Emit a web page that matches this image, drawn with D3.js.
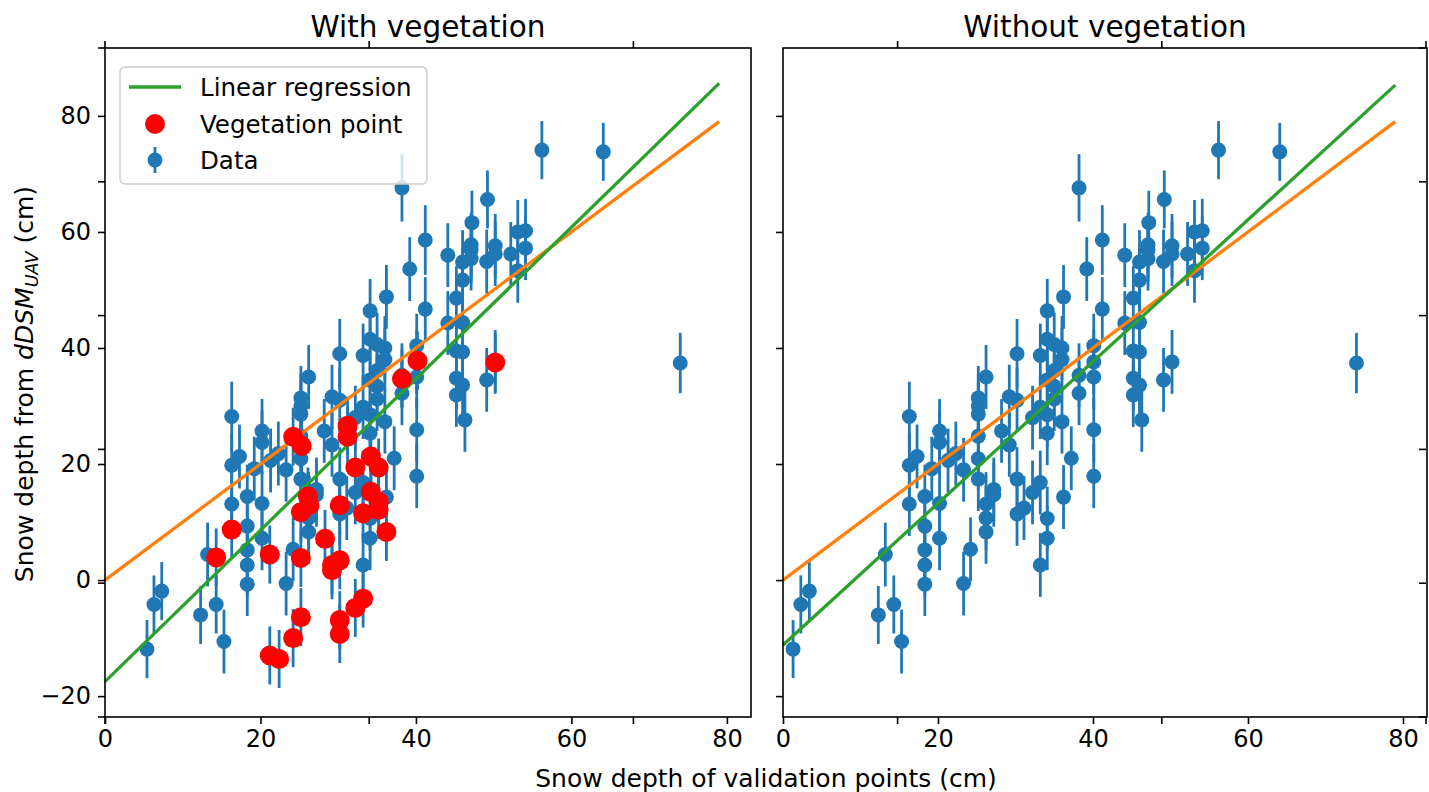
<!DOCTYPE html>
<html>
<head>
<meta charset="utf-8">
<script src="https://d3js.org/d3.v7.min.js"></script>
<style>
  body { margin: 0; background: #fff; }
  svg { display: block; font-family: "DejaVu Sans", sans-serif; }
</style>
</head>
<body>
<svg id="chart" width="1429" height="792"></svg>
<script>
// [snow depth of validation point (cm), snow depth from dDSM (cm), error (cm)]
const dataPoints = [
  [5.4,-11.9,5], [6.3,-4.2,5], [7.3,-1.9,5],
  [12.3,-6.0,5], [13.2,4.4,5.5], [14.3,-4.2,5], [15.3,-10.6,5.5],
  [16.3,28.2,6], [16.3,19.8,5.5], [16.3,13.1,5.5], [17.3,21.3,5.5],
  [18.3,14.4,5.5], [18.3,9.3,5.5], [18.3,5.2,5.5], [18.3,2.6,5.5], [18.3,-0.7,5.5],
  [19.2,19.2,5.5], [20.2,25.7,5.5], [20.2,23.7,5.5], [20.2,13.2,5.5], [20.2,7.2,5.5],
  [21.3,20.6,5.5], [22.3,21.8,5.5], [23.3,19.0,5.5], [23.3,-0.6,5.5], [24.2,5.3,5.5],
  [25.2,31.4,5.5], [25.2,30.0,5.5], [25.2,28.6,5.5], [25.2,24.8,5.5], [25.2,20.9,5.5], [25.2,17.4,5.5],
  [26.2,35.0,5.5], [26.2,13.1,5.5], [26.2,10.7,5.5], [26.2,8.3,5.5],
  [27.2,15.6,5.5], [27.2,14.7,5.5], [28.2,25.7,5.5], [29.2,31.6,5.5], [29.2,23.3,5.5],
  [30.2,39.0,6], [30.2,31.0,5.5], [30.2,17.4,5.5], [30.2,11.4,5.5], [31.1,12.4,5.5],
  [32.2,28.0,5.5], [32.2,15.1,5.5], [33.2,38.7,5.5], [33.2,29.8,5.5], [33.2,16.8,5.5], [33.2,2.6,5.5],
  [34.1,46.4,5.5], [34.1,41.5,5.5], [34.1,34.5,5.5], [34.1,28.5,5.5], [34.1,25.3,5.5], [34.1,10.6,5.5], [34.1,7.2,5.5],
  [35.0,40.6,5.5], [35.0,36.1,5.5], [35.0,33.4,5.5], [35.0,31.2,5.5],
  [36.0,40.0,5.5], [36.0,38.0,5.5], [36.0,27.3,5.5], [36.2,48.8,5.5], [36.2,14.3,5.5], [37.2,21.0,5.5],
  [38.2,35.3,5.5], [38.2,67.6,5.8], [38.2,32.2,5.5], [39.2,53.6,5.5],
  [40.1,40.4,5.5], [40.1,37.6,5.5], [40.1,35.0,5.5], [40.1,25.9,5.5], [40.1,17.9,5.5],
  [41.2,58.6,6], [41.2,46.7,5.5], [44.1,44.3,5.5], [44.1,56.0,5.5],
  [45.2,48.6,5.5], [45.2,39.5,5.5], [45.2,34.8,5.5], [45.2,31.9,5.5],
  [46.0,51.7,5.5], [46.0,44.4,5.5], [46.0,39.3,5.5], [46.0,33.6,5.5], [46.0,54.8,5.5], [46.3,27.6,5.5],
  [47.1,55.4,5.5], [47.1,56.9,5.5], [47.1,57.8,5.5], [47.2,61.6,5.5],
  [49.1,54.9,5.5], [49.1,34.5,5.5], [49.2,65.6,5],
  [50.2,57.6,5.5], [50.2,56.2,5.5], [50.2,37.6,5.5],
  [52.2,56.2,5.5], [53.1,60.0,5.5], [53.1,53.3,5.5], [54.1,60.2,5.5], [54.1,57.2,5.5],
  [56.2,74.1,5], [64.1,73.8,5], [74.0,37.4,5.2]
];

// vegetation points (red), same columns
const vegPoints = [
  [24.2,24.7,5], [25.3,23.1,5], [31.2,26.6,5], [31.2,24.7,5], [38.2,34.7,5], [40.2,37.8,5], [50.2,37.5,5],
  [16.3,8.7,5], [14.3,3.9,5], [21.2,4.4,5], [25.2,3.8,5], [25.2,-6.4,5], [24.2,-10.0,5], [21.2,-13.0,5], [22.4,-13.6,5],
  [26.1,14.4,5], [26.3,12.9,5], [25.2,11.7,5], [30.2,12.9,5], [28.3,7.1,5], [29.2,2.6,5], [30.2,3.4,5], [29.2,1.7,5],
  [30.2,-6.9,5], [30.2,-9.3,5], [32.2,-4.8,5], [33.2,-3.2,5], [33.2,11.5,5],
  [32.2,19.4,5], [34.2,21.3,5], [35.2,19.4,5], [34.2,15.2,5], [35.2,13.5,5], [35.2,12.1,5], [36.2,8.3,5]
];

// the three lowest points sit further left in the right panel
const lowPointsRight = [[1.3,-11.9,5], [2.3,-4.2,5], [3.4,-1.9,5]];

const oneToOne = [[0, 0], [79, 79]];
const fitWithVeg = [[0, -17.5], [79, 85.6]];
const fitWithoutVeg = [[0, -11.2], [79, 85.3]];

const xTicks = [0, 20, 40, 60, 80];
const yTicks = [-20, 0, 20, 40, 60, 80];
const frameTicks = [0, 0.2, 0.4, 0.6, 0.8, 1.0];
const titles = ["With vegetation", "Without vegetation"];
const legendLabels = ["Linear regression", "Vegetation point", "Data"];

const blue = "#1f77b4", orange = "#ff7f0e", green = "#2ca02c", red = "#ff0000";
const plotTop = 48, plotBottom = 717;
const svg = d3.select("#chart");

const y = d3.scaleLinear().domain([-23.6, 91.7]).range([plotBottom, plotTop]);
const fmt = d => (d < 0 ? "\u2212" + Math.abs(d) : "" + d);

const panels = [
  { x0: 105, x1: 751, title: titles[0], points: dataPoints.concat(vegPoints), veg: vegPoints, fit: fitWithVeg, yLabels: true, legend: true },
  { x0: 783, x1: 1427, title: titles[1], points: lowPointsRight.concat(dataPoints.slice(3)), veg: [], fit: fitWithoutVeg, yLabels: false, legend: false }
];

panels.forEach(p => {
  const x = d3.scaleLinear().domain([0, 83.1]).range([p.x0, p.x1]);
  const g = svg.append("g");

  // error bars then markers
  g.append("g").selectAll("line").data(p.points).join("line")
    .attr("x1", d => x(d[0])).attr("x2", d => x(d[0]))
    .attr("y1", d => y(d[1] - d[2])).attr("y2", d => y(d[1] + d[2]))
    .attr("stroke", blue).attr("stroke-width", 2.8);
  g.append("g").selectAll("circle").data(p.points).join("circle")
    .attr("cx", d => x(d[0])).attr("cy", d => y(d[1])).attr("r", 7.5)
    .attr("fill", blue);

  const line = d3.line().x(d => x(d[0])).y(d => y(d[1]));
  g.append("path").datum(oneToOne).attr("d", line)
    .attr("fill", "none").attr("stroke", orange).attr("stroke-width", 3.3);
  g.append("path").datum(p.fit).attr("d", line)
    .attr("fill", "none").attr("stroke", green).attr("stroke-width", 3.3);

  g.append("g").selectAll("circle").data(p.veg).join("circle")
    .attr("cx", d => x(d[0])).attr("cy", d => y(d[1])).attr("r", 10)
    .attr("fill", red);

  // frame
  g.append("rect").attr("x", p.x0).attr("y", plotTop)
    .attr("width", p.x1 - p.x0).attr("height", plotBottom - plotTop)
    .attr("fill", "none").attr("stroke", "#000").attr("stroke-width", 1.6);

  // x axis
  const xa = g.append("g").attr("transform", `translate(0,${plotBottom})`)
    .call(d3.axisBottom(x).tickValues(xTicks).tickFormat(fmt).tickSize(7).tickPadding(6));
  xa.select(".domain").remove();
  xa.selectAll("line").attr("stroke-width", 1.6);
  xa.selectAll("text").attr("font-size", 24).attr("fill", "#000").attr("font-family", "DejaVu Sans");

  // y axis
  const ya = g.append("g").attr("transform", `translate(${p.x0},0)`)
    .call(d3.axisLeft(y).tickValues(yTicks).tickFormat(p.yLabels ? fmt : () => "").tickSize(7).tickPadding(7));
  ya.select(".domain").remove();
  ya.selectAll("line").attr("stroke-width", 1.6);
  ya.selectAll("text").attr("font-size", 24).attr("fill", "#000").attr("font-family", "DejaVu Sans");

  g.append("text").attr("x", (p.x0 + p.x1) / 2).attr("y", 37)
    .attr("text-anchor", "middle").attr("font-size", 29.5).text(p.title);

  if (p.legend) {
    const lg = svg.append("g").attr("transform", "translate(120,67)");
    lg.append("rect").attr("width", 307).attr("height", 117).attr("rx", 5)
      .attr("fill", "#fff").attr("fill-opacity", 0.8).attr("stroke", "#cccccc").attr("stroke-width", 1.5);
    lg.append("line").attr("x1", 9).attr("x2", 61).attr("y1", 20).attr("y2", 20)
      .attr("stroke", green).attr("stroke-width", 3.3);
    lg.append("circle").attr("cx", 35).attr("cy", 57).attr("r", 10).attr("fill", red);
    lg.append("line").attr("x1", 35).attr("x2", 35).attr("y1", 80).attr("y2", 106)
      .attr("stroke", blue).attr("stroke-width", 2.8);
    lg.append("circle").attr("cx", 35).attr("cy", 93).attr("r", 7.5).attr("fill", blue);
    lg.selectAll("text.lbl").data(legendLabels).join("text").attr("class", "lbl")
      .attr("x", 80).attr("y", (d, i) => 29 + i * 36.5)
      .attr("font-size", 24.5).text(d => d);
  }
});

// ticks of the frameless shared axes spanning both panels
const fx = d3.scaleLinear().domain([0, 1]).range([105, 1426]);
const fy = d3.scaleLinear().domain([0, 1]).range([plotBottom, plotTop]);
const ft = svg.append("g").attr("stroke", "#000").attr("stroke-width", 1.6);
frameTicks.forEach(t => {
  ft.append("line").attr("x1", fx(t)).attr("x2", fx(t)).attr("y1", plotTop).attr("y2", plotTop - 7);
  ft.append("line").attr("x1", fx(t)).attr("x2", fx(t)).attr("y1", plotBottom).attr("y2", plotBottom + 7);
  ft.append("line").attr("x1", 105).attr("x2", 98).attr("y1", fy(t)).attr("y2", fy(t));
  ft.append("line").attr("x1", 1426).attr("x2", 1419).attr("y1", fy(t)).attr("y2", fy(t));
});

svg.append("text").attr("x", 766).attr("y", 787).attr("text-anchor", "middle")
  .attr("font-size", 25).text("Snow depth of validation points (cm)");

const yl = svg.append("text").attr("transform", "translate(33,384) rotate(-90)")
  .attr("text-anchor", "middle").attr("font-size", 25);
yl.append("tspan").text("Snow depth from ");
yl.append("tspan").attr("font-style", "italic").text("dDSM");
yl.append("tspan").attr("font-style", "italic").attr("font-size", 17.5).attr("dy", 5).text("UAV");
yl.append("tspan").attr("dy", -5).text(" (cm)");
</script>
</body>
</html>
